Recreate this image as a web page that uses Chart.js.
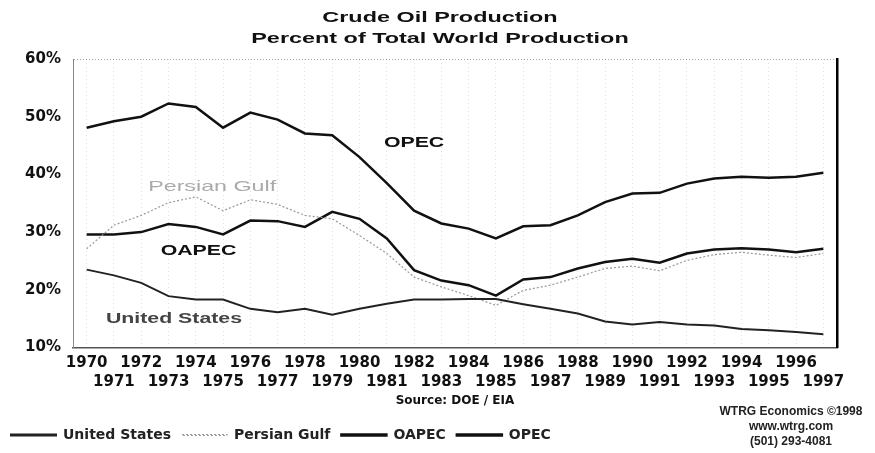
<!DOCTYPE html>
<html>
<head>
<meta charset="utf-8">
<script src="https://cdn.jsdelivr.net/npm/chart.js@4/dist/chart.umd.min.js"></script>
<style>
  html, body { margin: 0; padding: 0; background: #fff; }
  #wrap { position: relative; width: 875px; height: 453px; }
  .ttl {
    position: absolute; left: 0; width: 880px; text-align: center;
    font: bold 15px Arial, 'Liberation Sans', sans-serif; color: #111;
    line-height: 18px; transform: scaleX(1.56); transform-origin: 440px 0;
  }
  #credit {
    position: absolute; left: 712px; top: 404px; width: 158px;
    text-align: center; font: bold 12px Arial, 'Liberation Sans', sans-serif;
    color: #222; line-height: 15px;
  }
</style>
</head>
<body>
<div id="wrap">
  <canvas id="oilChart" width="875" height="453"></canvas>
  <div class="ttl" style="top:8px">Crude Oil Production</div>
  <div class="ttl" style="top:29px">Percent of Total World Production</div>
  <div id="credit">WTRG Economics ©1998<br>www.wtrg.com<br>(501) 293-4081</div>
</div>
<script>
// Years and percent of total world crude oil production
const years = [1970, 1971, 1972, 1973, 1974, 1975, 1976, 1977, 1978, 1979,
  1980, 1981, 1982, 1983, 1984, 1985, 1986, 1987, 1988, 1989,
  1990, 1991, 1992, 1993, 1994, 1995, 1996, 1997];
const unitedStates = [23.5, 22.5, 21.2, 18.9, 18.3, 18.3, 16.7, 16.1, 16.7, 15.7,
  16.7, 17.6, 18.3, 18.3, 18.4, 18.4, 17.5, 16.7, 15.9, 14.5,
  14.0, 14.4, 14.0, 13.8, 13.2, 13.0, 12.7, 12.3];
const persianGulf = [27.1, 31.2, 32.9, 35.1, 36.1, 33.7, 35.6, 34.8, 32.9, 32.3,
  29.4, 26.3, 22.2, 20.5, 19.0, 17.3, 19.9, 20.8, 22.2, 23.7,
  24.1, 23.3, 25.1, 26.1, 26.5, 26.0, 25.6, 26.3];
const oapec = [29.6, 29.6, 30.0, 31.4, 30.9, 29.6, 32.0, 31.9, 30.9, 33.5,
  32.3, 28.9, 23.4, 21.6, 20.8, 19.0, 21.8, 22.2, 23.7, 24.8,
  25.4, 24.7, 26.3, 27.0, 27.2, 27.0, 26.5, 27.1];
const opec = [48.1, 49.2, 50.0, 52.3, 51.7, 48.1, 50.7, 49.5, 47.1, 46.8,
  43.0, 38.5, 33.7, 31.5, 30.6, 28.9, 31.0, 31.2, 32.9, 35.2,
  36.7, 36.8, 38.4, 39.3, 39.6, 39.4, 39.6, 40.3];
const yTicks = [10, 20, 30, 40, 50, 60];

const FONT = "Arial, 'Liberation Sans', sans-serif";
const WIDE = "'DejaVu Sans', Verdana, sans-serif";

// text labels sitting inside the plot, placed in data units
const lineLabels = [
  { text: 'OPEC', x: 12, y: 45.4, color: '#111', weight: 'bold' },
  { text: 'Persian Gulf', x: 4.6, y: 37.8, color: '#aaa', weight: 'normal' },
  { text: 'OAPEC', x: 4.1, y: 26.7, color: '#111', weight: 'bold' },
  { text: 'United States', x: 3.2, y: 15.0, color: '#444', weight: 'bold' }
];

const lineLabelPlugin = {
  id: 'lineLabels',
  afterDatasetsDraw(chart) {
    const ctx = chart.ctx;
    const xs = chart.scales.x;
    const ys = chart.scales.y;
    const step = xs.getPixelForValue(1) - xs.getPixelForValue(0);
    lineLabels.forEach(l => {
      const i0 = Math.floor(l.x);
      const px = xs.getPixelForValue(i0) + (l.x - i0) * step;
      ctx.save();
      ctx.translate(px, ys.getPixelForValue(l.y));
      ctx.scale(l.weight === 'bold' ? 1.42 : 1.55, 1);
      ctx.textAlign = 'center';
      ctx.textBaseline = 'middle';
      ctx.font = l.weight + ' 15px ' + FONT;
      ctx.fillStyle = l.color;
      ctx.fillText(l.text, 0, 0);
      ctx.restore();
    });
  }
};

const ctx = document.getElementById('oilChart').getContext('2d');
new Chart(ctx, {
  type: 'line',
  data: {
    labels: years.map(String),
    datasets: [
      { label: 'United States', data: unitedStates, borderColor: '#222', backgroundColor: '#222', borderWidth: 2 },
      { label: 'Persian Gulf', data: persianGulf, borderColor: '#999', backgroundColor: '#fff', borderWidth: 1.2, borderDash: [2, 2] },
      { label: 'OAPEC', data: oapec, borderColor: '#111', backgroundColor: '#111', borderWidth: 2.5 },
      { label: 'OPEC', data: opec, borderColor: '#111', backgroundColor: '#111', borderWidth: 2.5 }
    ]
  },
  options: {
    responsive: false,
    animation: false,
    layout: { padding: { left: 0, right: 38, top: 59, bottom: 1 } },
    elements: { point: { radius: 0 }, line: { tension: 0 } },
    plugins: {
      title: { display: false },
      legend: {
        position: 'bottom',
        align: 'start',
        labels: {
          boxWidth: 45,
          boxHeight: 1,
          padding: 11,
          color: '#222',
          font: { family: WIDE, size: 14, weight: 'bold' }
        }
      },
      tooltip: { enabled: false }
    },
    scales: {
      x: {
        offset: true,
        grid: { color: 'rgba(0,0,0,0.12)', drawTicks: false },
        border: { color: '#555', width: 1.5, dash: [1, 3] },
        ticks: {
          autoSkip: false,
          maxRotation: 0,
          padding: 6,
          color: '#111',
          font: { family: WIDE, size: 15, weight: 'bold', lineHeight: 1.27 },
          callback: (v, i) => i % 2 === 0 ? [String(years[i]), ''] : ['', String(years[i])]
        },
        title: {
          display: true,
          text: 'Source: DOE / EIA',
          color: '#111',
          font: { family: WIDE, size: 12, weight: 'bold' },
          padding: { top: -4, bottom: 9 }
        }
      },
      y: {
        min: yTicks[0],
        max: yTicks[yTicks.length - 1],
        afterFit: s => { s.width = 73; },
        afterBuildTicks: s => { s.ticks = yTicks.map(v => ({ value: v })); },
        grid: {
          drawTicks: false,
          color: c => c.tick && c.tick.value === 60 ? 'rgba(0,0,0,0.35)' : 'rgba(0,0,0,0)'
        },
        border: { color: '#888', width: 1, dash: [1, 2] },
        ticks: {
          padding: 12,
          color: '#111',
          font: { family: WIDE, size: 15, weight: 'bold' },
          callback: v => v + '%'
        }
      },
      yRight: {
        position: 'right',
        min: 10,
        max: 60,
        afterFit: s => { s.width = 0; },
        grid: { display: false },
        border: { color: '#000', width: 2.5 },
        ticks: { display: false }
      }
    }
  },
  plugins: [lineLabelPlugin]
});
</script>
</body>
</html>
